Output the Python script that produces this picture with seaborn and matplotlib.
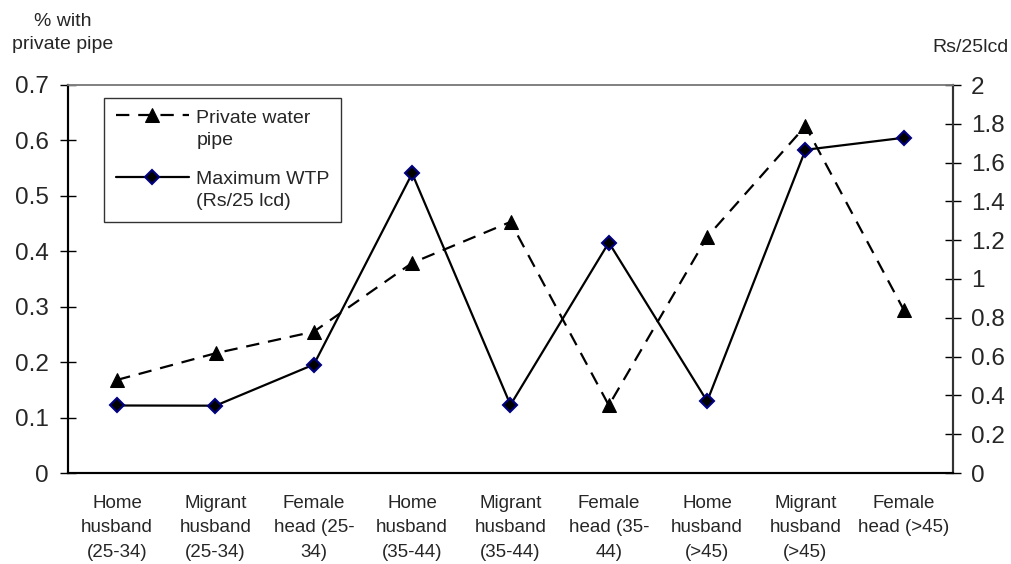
import numpy as np
import matplotlib
matplotlib.use("Agg")
import matplotlib.pyplot as plt
import seaborn as sns
from matplotlib.lines import Line2D
from matplotlib.legend_handler import HandlerLine2D
from matplotlib.ticker import FuncFormatter, MultipleLocator

sns.set_style("white")
plt.rcParams['font.family'] = ['Liberation Sans', 'DejaVu Sans']

# data
groups = ['Home\nhusband\n(25-34)', 'Migrant\nhusband\n(25-34)', 'Female\nhead (25-\n34)',
          'Home\nhusband\n(35-44)', 'Migrant\nhusband\n(35-44)', 'Female\nhead (35-\n44)',
          'Home\nhusband\n(>45)', 'Migrant\nhusband\n(>45)', 'Female\nhead (>45)']
private_pipe = [0.168, 0.216, 0.255, 0.379, 0.453, 0.122, 0.426, 0.626, 0.294]
max_wtp = [0.348, 0.347, 0.559, 1.544, 0.351, 1.188, 0.370, 1.666, 1.728]

xpos = np.arange(len(groups))


# legend handle sits on the first line of a two-line label (Excel style)
class FirstLineHandler(HandlerLine2D):
    def create_artists(self, legend, orig_handle, xdescent, ydescent, width, height, fontsize, trans):
        return super().create_artists(legend, orig_handle, xdescent, ydescent - 1.4 * fontsize,
                                      width, height, fontsize, trans)


fig = plt.figure(figsize=(10.11, 5.64), dpi=100)
ax = fig.add_axes([68 / 1011, 1 - 473 / 564, (953 - 68) / 1011, (473 - 85) / 564])
ax2 = ax.twinx()

# ----- private pipe (left axis) -----
sns.lineplot(x=xpos, y=private_pipe, ax=ax, color='black', linewidth=1.6,
             linestyle=(0, (6, 4)), marker='^', markersize=10,
             markerfacecolor='black', markeredgecolor='black', label='Private water\npipe',
             legend=False)

# ----- WTP (right axis) -----
sns.lineplot(x=xpos, y=max_wtp, ax=ax2, color='black', linewidth=1.6,
             marker='D', markersize=7, markerfacecolor='black',
             markeredgecolor='#000080', markeredgewidth=1.5, label='Maximum WTP\n(Rs/25 lcd)',
             legend=False)

ax.set_xlim(-0.5, len(groups) - 0.5)
ax.set_ylim(0, 0.7)
ax2.set_ylim(0, 2)
ax.yaxis.set_major_locator(MultipleLocator(0.1))
ax2.yaxis.set_major_locator(MultipleLocator(0.2))
ax.yaxis.set_major_formatter(FuncFormatter(lambda v, p: f'{round(v, 1):g}'))
ax2.yaxis.set_major_formatter(FuncFormatter(lambda v, p: f'{round(v, 1):g}'))

ax.set_xticks(xpos)
ax.set_xticklabels(groups, fontsize=13.5, linespacing=1.55)
ax.set_xticks(np.arange(-0.5, len(groups)), minor=True)
ax.tick_params(axis='x', which='major', length=0, pad=16)
ax.tick_params(axis='x', which='minor', length=6, width=1, direction='out', color='black')
ax.tick_params(axis='y', labelsize=17.5, length=12, width=1, direction='inout', color='black', pad=8)
ax2.tick_params(axis='y', labelsize=17.5, length=12, width=1, direction='inout', color='black', pad=7)

for a in (ax, ax2):
    a.set_xlabel('')
    a.set_ylabel('')
    a.spines['top'].set_color('#808080')
    a.spines['top'].set_linewidth(1.2)
    a.spines['left'].set_color('black')
    a.spines['bottom'].set_color('black')
    a.spines['right'].set_color('#333333')
    for s in ('left', 'bottom', 'right'):
        a.spines[s].set_linewidth(1.5)
ax.grid(False)
ax2.grid(False)

# axis titles
fig.text(63 / 1011, 1 - 33 / 564, '% with\nprivate pipe', ha='center', va='center',
         fontsize=14, linespacing=1.47)
fig.text(1009 / 1011, 1 - 48 / 564, 'Rs/25lcd', ha='right', va='center', fontsize=14)

# legend
h1, l1 = ax.get_legend_handles_labels()
h2, l2 = ax2.get_legend_handles_labels()
leg = ax2.legend(h1 + h2, l1 + l2, loc='upper left',
                 bbox_to_anchor=(104 / 1011, 1 - 98 / 564), bbox_transform=fig.transFigure,
                 borderaxespad=0, fontsize=14, frameon=True, fancybox=False, framealpha=1,
                 edgecolor='#333333', handlelength=3.75, borderpad=0.6,
                 labelspacing=1.15, handletextpad=0.4,
                 handler_map={Line2D: FirstLineHandler()})
for t in leg.get_texts():
    t.set_linespacing(1.39)
leg.get_frame().set_linewidth(1.0)

fig.savefig('out.png', dpi=100)
